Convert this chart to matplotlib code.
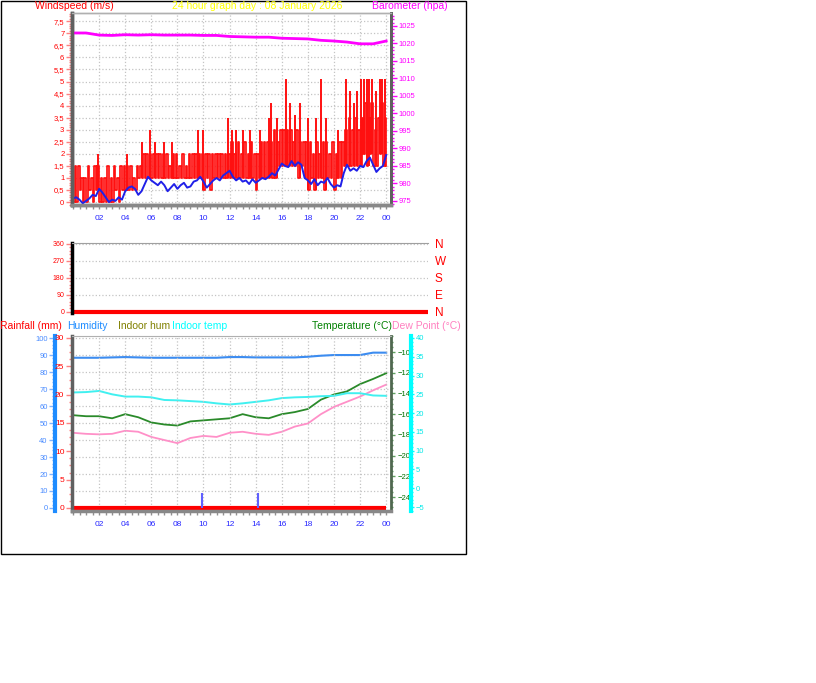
import numpy as np
import matplotlib
matplotlib.use('Agg')
import matplotlib.pyplot as plt
from matplotlib.ticker import MultipleLocator, FuncFormatter, FixedLocator
from matplotlib.patches import Rectangle

plt.rcParams['font.family'] = ['Liberation Sans', 'DejaVu Sans']

W, H = 816, 683

hours = list(range(25))
hour_ticks = list(range(2, 25, 2))
hour_labels = ['%02d' % (h % 24) for h in hour_ticks]

# wind speed (m/s), 15 minute steps
wind_avg = [0.15, 0.2, 0.1, -0.05, 0.05, 0.15, 0.3, 0.25,
            0.55, 0.4, 0.2, 0.0, 0.1, 0.05, 0.2, 0.1,
            0.45, 0.6, 0.65, 0.55, 0.3, 0.45, 0.75, 1.05,
            0.9, 0.8, 0.7, 0.85, 0.7, 0.45, 0.6, 0.75,
            0.55, 0.7, 0.8, 0.6, 0.65, 0.85, 0.9, 1.05,
            0.85, 0.6, 0.75, 0.9, 1.0, 0.9, 1.1, 1.2,
            1.3, 1.05, 0.9, 1.0, 0.85, 0.9, 0.75, 0.95,
            0.8, 0.9, 1.0, 0.95, 1.05, 1.2, 1.1, 1.35,
            1.6, 1.5, 1.45, 1.7, 1.5, 1.65, 1.55, 1.0,
            0.9, 0.75, 0.95, 0.7, 0.85, 0.8, 1.0, 0.75,
            0.6, 0.7, 0.65, 1.2, 1.55, 1.3, 1.4, 1.3,
            1.5, 1.45, 1.7, 1.85, 1.55, 1.25, 1.4, 1.5,
            1.95]
# gust: low and usual high of each 15 minutes, plus the single peaks
gust_lo = [0, 0, 0.5, 0, 0, 0.5, 0, 0.5,
           0, 0, 0, 0, 0, 0.5, 0, 0.5,
           0.5, 0.5, 0.5, 0.5, 1.0, 1.0, 1.0, 1.0,
           1.0, 1.0, 1.0, 1.0, 1.0, 1.0, 1.0, 1.0,
           1.0, 1.0, 1.0, 1.0, 1.0, 1.0, 1.0, 1.0,
           0.5, 1.0, 0.5, 1.0, 1.0, 1.0, 1.0, 1.0,
           1.0, 1.0, 1.0, 1.0, 1.0, 1.0, 1.0, 1.0,
           0.5, 1.0, 1.0, 1.0, 1.0, 1.0, 1.0, 1.5,
           1.5, 1.5, 1.5, 1.5, 1.5, 1.0, 1.5, 1.0,
           0.5, 1.0, 0.5, 1.0, 1.0, 0.5, 1.0, 1.0,
           0.5, 1.0, 1.0, 1.5, 1.5, 1.5, 1.5, 1.5,
           1.5, 2.0, 1.5, 2.0, 1.5, 1.5, 2.0, 1.5]
gust_top = [1.5, 1.5, 1.0, 1.0, 1.5, 1.0, 1.5, 1.5,
            1.0, 1.0, 1.5, 1.0, 1.5, 1.0, 1.5, 1.5,
            1.5, 1.5, 1.0, 1.5, 1.5, 2.0, 2.0, 2.0,
            2.0, 2.0, 2.0, 2.0, 2.0, 1.5, 2.0, 2.0,
            1.5, 2.0, 1.5, 2.0, 2.0, 2.0, 2.0, 2.0,
            2.0, 2.0, 2.0, 2.0, 2.0, 2.0, 2.0, 2.0,
            2.5, 2.0, 2.5, 2.0, 2.5, 2.0, 2.5, 2.0,
            2.0, 2.5, 2.5, 2.5, 2.5, 3.0, 2.5, 3.0,
            3.0, 3.0, 3.0, 2.5, 3.0, 2.5, 2.5, 2.5,
            2.5, 2.0, 2.5, 2.0, 2.5, 2.5, 2.0, 2.5,
            2.0, 2.5, 2.5, 3.0, 3.5, 3.0, 3.5, 3.0,
            3.5, 4.1, 3.5, 4.1, 3.0, 3.5, 4.1, 3.5]
peak_hours = [1.9, 4.1, 5.3, 5.9, 6.3, 7.0, 7.6, 9.6, 10.0, 11.9, 12.2, 12.5,
              13.0, 13.6, 14.3, 15.0, 15.2, 15.6, 16.3, 16.6, 17.0, 17.4,
              18.0, 18.6, 19.0, 19.4, 20.3, 20.9, 21.2, 21.5, 21.8, 22.1,
              22.3, 22.5, 22.7, 22.9, 23.2, 23.5, 23.7, 23.9]
peak_vals = [2.0, 2.0, 2.5, 3.0, 2.5, 2.5, 2.5, 3.0, 3.0, 3.5, 3.0, 3.0,
             3.0, 3.0, 3.0, 3.5, 4.1, 3.5, 5.1, 4.1, 3.6, 4.1,
             3.5, 3.5, 5.1, 3.5, 3.0, 5.1, 4.6, 4.1, 4.6, 5.1,
             5.1, 5.1, 5.1, 5.1, 4.6, 5.1, 5.1, 5.1]
barometer = [1023.0, 1023.0, 1022.4, 1022.3, 1022.5, 1022.4, 1022.5, 1022.4,
             1022.4, 1022.4, 1022.3, 1022.3, 1022.0, 1021.9, 1021.8, 1021.8,
             1021.5, 1021.4, 1021.3, 1020.9, 1020.7, 1020.4, 1019.9, 1019.9,
             1020.7]

wind_dir = [0] * 25
dir_ticks = [0, 90, 180, 270, 360]
dir_names = ['N', 'E', 'S', 'W', 'N']

humidity = [88.4, 88.4, 88.4, 88.6, 88.8, 88.6, 88.4, 88.4, 88.4, 88.4,
            88.4, 88.4, 88.8, 88.8, 88.6, 88.6, 88.6, 88.6, 89.0, 89.6,
            90.0, 90.0, 90.0, 91.4, 91.4]
indoor_temp = [25.5, 25.6, 25.9, 25.0, 24.4, 24.4, 24.2, 23.5, 23.4, 23.2,
               23.0, 22.6, 22.3, 22.6, 23.0, 23.4, 24.0, 24.2, 24.3, 24.5,
               24.6, 25.3, 25.3, 24.7, 24.6]
temperature = [-16.1, -16.2, -16.2, -16.4, -16.0, -16.3, -16.8, -17.0, -17.1,
               -16.7, -16.6, -16.5, -16.4, -16.0, -16.3, -16.4, -16.0, -15.8,
               -15.5, -14.6, -14.1, -13.8, -13.1, -12.6, -12.05]
dew_point = [-17.8, -17.9, -17.95, -17.9, -17.6, -17.7, -18.2, -18.5, -18.8,
             -18.3, -18.1, -18.2, -17.8, -17.7, -17.9, -18.0, -17.7, -17.2,
             -16.9, -16.0, -15.3, -14.8, -14.3, -13.7, -13.15]
rainfall = [0] * 25
rain_bar_hours = [9.9, 14.2]
rain_bar_mm = [2.6, 2.6]


def box(x0, y0, x1, y1):
    return [x0 / W, 1 - y1 / H, (x1 - x0) / W, (y1 - y0) / H]


def style_y(ax, major, minor, tick_col, label_col, size=5.5, length=4):
    ax.yaxis.set_major_locator(MultipleLocator(major))
    ax.yaxis.set_minor_locator(MultipleLocator(minor))
    ax.tick_params(axis='y', which='both', colors=tick_col, labelcolor=label_col,
                   labelsize=size, width=1, pad=1.5)
    ax.tick_params(axis='y', which='major', length=length)
    ax.tick_params(axis='y', which='minor', length=length * 0.6)


def style_x(ax):
    ax.xaxis.set_major_locator(FixedLocator(hour_ticks))
    ax.xaxis.set_minor_locator(MultipleLocator(0.5))
    ax.set_xticklabels(hour_labels)
    ax.tick_params(axis='x', which='both', colors='#909090', labelcolor='#2828ff',
                   labelsize=6, length=3, width=1, pad=4)


comma = FuncFormatter(lambda v, p: ('%g' % v).replace('.', ','))
grid_kw = dict(color='#c4c4c4', linestyle=':', linewidth=0.9)

fig = plt.figure(figsize=(W / 100, H / 100), dpi=100)

# ---- wind speed / barometer ----
ax1 = fig.add_axes(box(72, 13, 391, 205))
ax1.set_xlim(-0.077, 24.37)
ax1.set_ylim(-0.12, 7.84)
t15 = np.arange(len(gust_lo)) * 0.25
gx = np.append(np.column_stack([t15, t15 + 0.125]).ravel(), 24)
gy = np.append(np.column_stack([gust_lo, gust_top]).ravel(), gust_lo[-1])
ax1.plot(gx, gy, color='#ff1010', lw=1.25, drawstyle='steps-post', zorder=2)
peak_base = [gust_lo[min(int(h * 4), len(gust_lo) - 1)] for h in peak_hours]
ax1.vlines(peak_hours, peak_base, peak_vals, color='#ff1010', lw=1.4, zorder=2)
ax1.plot(np.arange(len(wind_avg)) * 0.25, wind_avg, color='#2020e8', lw=1.4, zorder=3)
style_y(ax1, 0.5, 0.1, '#ff8080', '#ff0000')
ax1.yaxis.set_major_formatter(comma)
style_x(ax1)
ax1.grid(True, which='major', **grid_kw)
ax1.set_axisbelow(True)

ax1b = ax1.twinx()
ax1b.set_ylim(973.77, 1028.72)
ax1b.plot(hours, barometer, color='#ff00ff', lw=2)
style_y(ax1b, 5, 1, '#ff00ff', '#ff00ff')

for a in (ax1, ax1b):
    a.spines['left'].set_color('#606060')
    a.spines['left'].set_linewidth(2.5)
    a.spines['bottom'].set_color('#888888')
    a.spines['bottom'].set_linewidth(2.5)
    a.spines['right'].set_color('#606060')
    a.spines['right'].set_linewidth(2)
    a.spines['top'].set_color('#b0b0b0')
    a.spines['top'].set_linewidth(1)

# ---- wind direction ----
ax2 = fig.add_axes(box(72, 243, 428, 313))
ax2.set_xlim(0, 24)
ax2.set_ylim(-6, 365)
ax2.plot(hours, wind_dir, color='#ff0000', lw=3, solid_capstyle='butt', clip_on=False)
ax2.set_yticks(dir_ticks)
ax2.yaxis.set_minor_locator(MultipleLocator(18))
ax2.tick_params(axis='y', which='both', colors='#ff8080', labelcolor='#ff0000',
                labelsize=5, width=1, pad=1.5)
ax2.tick_params(axis='y', which='major', length=4)
ax2.tick_params(axis='y', which='minor', length=2.5)
ax2.set_xticks([])
ax2.yaxis.grid(True, **grid_kw)
ax2.spines['left'].set_color('black')
ax2.spines['left'].set_linewidth(2.5)
ax2.spines['top'].set_color('#a0a0a0')
ax2.spines['right'].set_visible(False)
ax2.spines['bottom'].set_visible(False)
ax2r = ax2.twinx()
ax2r.set_ylim(-6, 365)
ax2r.set_yticks(dir_ticks)
ax2r.set_yticklabels(dir_names)
ax2r.tick_params(axis='y', length=0, labelcolor='#ff0000', labelsize=8.5, pad=5)
for s in ax2r.spines.values():
    s.set_visible(False)

# ---- rain / humidity / temperatures ----
ax3 = fig.add_axes(box(72, 336, 391, 511))
ax3.set_xlim(-0.077, 24.37)
ax3.set_ylim(-0.53, 30.35)
style_y(ax3, 5, 1.25, '#ff8080', '#ff0000', size=6)
style_x(ax3)
ax3.xaxis.grid(True, **grid_kw)

ax3h = ax3.twinx()
ax3h.set_ylim(-1.77, 101.2)
ax3h.yaxis.tick_left()
ax3h.spines['left'].set_position(('outward', 12))
style_y(ax3h, 10, 2, '#80b4ff', '#4a8cff')
for v in range(10, 101, 10):
    ax3h.axhline(v, zorder=0, **grid_kw)
ax3h.plot(hours, humidity, color='#3c8cf0', lw=1.5)

ax3t = ax3.twinx()
ax3t.set_ylim(-25.35, -8.455)
style_y(ax3t, 2, 0.5, '#60a060', '#007000', length=3)
ax3t.plot(hours, temperature, color='#2a8a2a', lw=1.3)
ax3t.plot(hours, dew_point, color='#ff90c8', lw=1.3)

ax3c = ax3.twinx()
ax3c.set_ylim(-6.06, 40.53)
ax3c.spines['right'].set_position(('outward', 14.4))
style_y(ax3c, 5, 1, '#00ffff', '#00e8e8', length=2)
ax3c.plot(hours, indoor_temp, color='#40f0f0', lw=1.4)

ax3.set_zorder(ax3c.get_zorder() + 1)
ax3.patch.set_visible(False)
ax3.plot(hours, rainfall, color='#ff0000', lw=3, solid_capstyle='butt')
ax3.vlines(rain_bar_hours, 0, rain_bar_mm, color='#6060ff', lw=1.5)

for a in (ax3, ax3h, ax3t, ax3c):
    for s in a.spines.values():
        s.set_visible(False)
ax3.spines['left'].set_visible(True)
ax3.spines['left'].set_color('#606060')
ax3.spines['left'].set_linewidth(2.5)
ax3.spines['bottom'].set_visible(True)
ax3.spines['bottom'].set_color('#888888')
ax3.spines['bottom'].set_linewidth(2.5)
ax3.spines['top'].set_visible(True)
ax3.spines['top'].set_color('#b0b0b0')
ax3h.spines['left'].set_visible(True)
ax3h.spines['left'].set_color('#1e8cff')
ax3h.spines['left'].set_linewidth(3)
ax3t.spines['right'].set_visible(True)
ax3t.spines['right'].set_color('#506850')
ax3t.spines['right'].set_linewidth(2)
ax3c.spines['right'].set_visible(True)
ax3c.spines['right'].set_color('#00ffff')
ax3c.spines['right'].set_linewidth(3)

# ---- header texts ----
fs = 7.5
def label(x, y, s, c, ha='left'):
    fig.text(x / W, 1 - y / H, s, color=c, fontsize=fs, ha=ha, va='center')

label(35, 6, 'Windspeed (m/s)', '#ff0000')
label(172, 6, '24 hour graph day : 08 January 2026', '#ffff00')
label(372, 6, 'Barometer (hpa)', '#ff00ff')
label(0, 326, 'Rainfall (mm)', '#ff0000')
label(67, 326, 'Humidity', '#1e8cff')
label(118, 326, 'Indoor hum', '#808000')
label(172, 326, 'Indoor temp', '#00ffff')
label(392, 326, 'Temperature (°C)', '#008000', ha='right')
label(392, 326, 'Dew Point (°C)', '#ff80c0')

fig.add_artist(Rectangle((0.5 / W, 1 - 553.5 / H), 465 / W, 553 / H,
                         transform=fig.transFigure, fill=False, ec='black', lw=1))

fig.savefig('out.png', dpi=100)
